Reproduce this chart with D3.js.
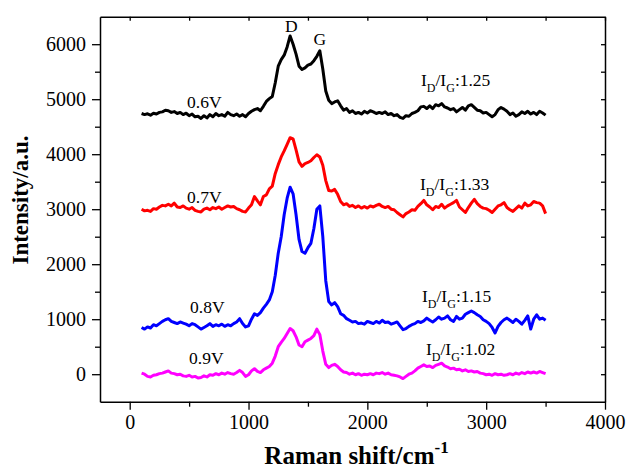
<!DOCTYPE html>
<html>
<head>
<meta charset="utf-8">
<script src="https://cdn.jsdelivr.net/npm/d3@7/dist/d3.min.js"></script>
<style>
html,body{margin:0;padding:0;background:#fff;}
svg text{font-family:"Liberation Serif","Times New Roman",serif;}
</style>
</head>
<body>
<svg id="chart" width="629" height="470"></svg>
<script>
// ---- data ----
const ramanShift = [100,125,150,175,200,225,250,275,300,325,350,375,400,425,450,475,500,525,550,575,600,625,650,675,700,725,750,775,800,825,850,875,900,925,950,975,1000,1025,1050,1075,1100,1125,1150,1175,1200,1225,1250,1275,1300,1325,1350,1375,1400,1425,1450,1475,1500,1525,1550,1575,1600,1625,1650,1675,1700,1725,1750,1775,1800,1825,1850,1875,1900,1925,1950,1975,2000,2025,2050,2075,2100,2125,2150,2175,2200,2225,2250,2275,2300,2325,2350,2375,2400,2425,2450,2475,2500,2525,2550,2575,2600,2625,2650,2675,2700,2725,2750,2775,2800,2825,2850,2875,2900,2925,2950,2975,3000,3025,3050,3075,3100,3125,3150,3175,3200,3225,3250,3275,3300,3325,3350,3375,3400,3425,3450,3475,3500];

const v06 = [4740,4720,4735,4710,4745,4730,4760,4770,4800,4790,4760,4775,4740,4760,4720,4745,4700,4730,4680,4690,4650,4700,4660,4720,4680,4740,4700,4720,4690,4760,4720,4700,4730,4690,4720,4680,4740,4780,4810,4830,4790,4870,4960,5010,5050,5300,5600,5720,5800,5950,6150,6000,5820,5600,5540,5570,5620,5640,5700,5780,5880,5550,5150,4980,4920,4950,4970,4880,4800,4830,4760,4790,4740,4760,4730,4780,4750,4790,4770,4740,4760,4740,4770,4720,4740,4700,4720,4670,4650,4700,4690,4740,4760,4790,4860,4870,4830,4880,4830,4900,4880,4920,4860,4840,4810,4830,4770,4810,4850,4800,4880,4900,4850,4800,4790,4750,4760,4720,4680,4720,4810,4850,4820,4780,4720,4750,4690,4720,4770,4740,4780,4730,4760,4720,4780,4750,4710];

const v07 = [3000,2970,2980,2960,3010,3000,3040,3070,3060,3090,3060,3110,3040,3030,3060,3020,3000,3030,2980,2960,2950,3000,3020,2990,3030,3010,3040,3000,3030,3060,3040,3050,3010,2990,2960,2950,3020,3080,3230,3150,3080,3230,3260,3370,3420,3650,3810,3950,4060,4180,4300,4280,4080,3860,3780,3830,3850,3880,3940,3990,3950,3800,3520,3340,3330,3360,3270,3140,3080,3100,3050,3070,3030,3060,3020,3050,3020,3060,3040,3070,3090,3050,3030,3050,3000,2990,2940,2900,2860,2920,2950,2990,2980,3050,3100,3160,3080,3040,2990,3050,3030,3090,3020,3060,3090,3120,3160,3040,2990,2940,3030,3110,3180,3100,3050,3020,3010,2980,2940,3000,3060,3080,3120,3030,2990,2960,3010,3060,3020,3110,3060,3080,3140,3120,3110,3060,2920];

const v08 = [850,820,860,840,900,880,920,960,990,1010,960,940,920,950,930,910,880,920,900,860,820,850,880,920,870,900,880,910,870,900,880,920,950,1010,920,860,880,1000,1100,1070,1120,1200,1270,1350,1500,1800,2200,2500,2900,3200,3400,3280,2900,2450,2230,2200,2300,2380,2650,3000,3060,2500,1700,1320,1260,1300,1230,1100,1070,1010,980,950,960,920,930,910,960,940,920,960,930,980,940,950,910,930,950,880,810,830,870,900,920,960,940,970,1020,980,950,990,1040,1000,1020,1060,990,960,1050,1000,1020,1090,1120,1150,1120,1080,1050,990,960,920,850,750,870,940,990,1020,980,940,1000,960,910,980,1060,820,1000,1080,1000,1020,980];

const v09 = [20,0,-40,-50,-20,-10,10,20,40,60,20,10,-10,0,-30,-40,-20,-50,-40,-70,-60,-30,-50,-10,-20,10,-10,20,0,30,10,0,30,70,30,-40,-10,60,100,50,30,80,110,140,200,330,500,580,650,740,830,790,680,530,500,590,620,650,700,820,720,420,180,120,160,180,140,80,40,30,0,20,-10,10,-20,0,-10,10,-10,20,10,30,0,20,-10,-20,-30,-50,-80,-40,0,20,60,110,140,170,140,150,120,160,180,200,150,130,100,110,80,90,60,80,50,60,40,50,20,10,-10,0,-20,10,-10,0,-20,-10,10,-10,20,0,30,10,40,20,40,20,50,30,10];

const seriesNames = ["0.6V","0.7V","0.8V","0.9V"];
const seriesColors = ["#000000","#ff0000","#0000ff","#ff00ff"];
const ratioLabels = ["1.25","1.33","1.15","1.02"];

const xMajorTicks = [0,1000,2000,3000,4000];
const xMinorTicks = [500,1500,2500,3500];
const yMajorTicks = [0,1000,2000,3000,4000,5000,6000];
const yMinorTicks = [500,1500,2500,3500,4500,5500];

const xTitle = "Raman shift/cm";
const yTitle = "Intensity/a.u.";

// ---- layout ----
const L = 100, R = 605, T = 16.7, B = 401.7;
const svg = d3.select("#chart");

const x = d3.scaleLinear().domain([-250, 4000]).range([L, R]);
const y = d3.scaleLinear().domain([-500, 6500]).range([B, T]);

const series = [v06, v07, v08, v09];

// curves
const line = d3.line().x((d, i) => x(ramanShift[i])).y(d => y(d));
series.forEach((vals, k) => {
  svg.append("path")
    .datum(vals)
    .attr("fill", "none")
    .attr("stroke", seriesColors[k])
    .attr("stroke-width", 3)
    .attr("stroke-linejoin", "round")
    .attr("d", line);
});

// axes
function styleAxis(g) {
  g.selectAll("path").attr("stroke", "#000").attr("stroke-width", 1.5);
  g.selectAll("line").attr("stroke", "#000").attr("stroke-width", 1.3);
}
const fontSize = 20;

// bottom major
const gB = svg.append("g").attr("transform", `translate(0,${B})`)
  .call(d3.axisBottom(x).tickValues(xMajorTicks).tickSize(8).tickSizeOuter(0).tickPadding(5).tickFormat(d3.format("d")));
styleAxis(gB);
gB.selectAll("text").attr("font-size", fontSize).attr("fill", "#000");
svg.append("g").attr("transform", `translate(0,${B})`)
  .call(d3.axisBottom(x).tickValues(xMinorTicks).tickSize(5).tickSizeOuter(0).tickFormat(""))
  .call(styleAxis).select("path").remove();

// top (inward)
svg.append("g").attr("transform", `translate(0,${T})`)
  .call(d3.axisBottom(x).tickValues(xMajorTicks.concat(xMinorTicks)).tickSize(4).tickSizeOuter(0).tickFormat(""))
  .call(styleAxis);

// left major
const gL = svg.append("g").attr("transform", `translate(${L},0)`)
  .call(d3.axisLeft(y).tickValues(yMajorTicks).tickSize(8).tickSizeOuter(0).tickPadding(6).tickFormat(d3.format("d")));
styleAxis(gL);
gL.selectAll("text").attr("font-size", fontSize).attr("fill", "#000");
svg.append("g").attr("transform", `translate(${L},0)`)
  .call(d3.axisLeft(y).tickValues(yMinorTicks).tickSize(5).tickSizeOuter(0).tickFormat(""))
  .call(styleAxis).select("path").remove();

// right (inward)
svg.append("g").attr("transform", `translate(${R},0)`)
  .call(d3.axisLeft(y).tickValues(yMajorTicks.concat(yMinorTicks)).tickSize(4).tickSizeOuter(0).tickFormat(""))
  .call(styleAxis);

// axis titles
const xt = svg.append("text")
  .attr("x", (L + R) / 2 + 4).attr("y", 464)
  .attr("text-anchor", "middle")
  .attr("font-weight", "bold").attr("font-size", 25).attr("fill", "#000");
xt.append("tspan").text(xTitle);
xt.append("tspan").attr("dy", -11).attr("font-size", 17).text("-1");

svg.append("text")
  .attr("transform", `translate(28,200) rotate(-90)`)
  .attr("text-anchor", "middle")
  .attr("font-weight", "bold").attr("font-size", 23).attr("fill", "#000")
  .text(yTitle);

// series labels
const nameOffsets = [[187, 108], [187, 203], [190, 313], [189, 364]];
seriesNames.forEach((n, k) => {
  svg.append("text")
    .attr("x", nameOffsets[k][0]).attr("y", nameOffsets[k][1])
    .attr("font-size", 17.5).attr("fill", "#000")
    .text(n);
});

// peak labels
svg.append("text").attr("x", x(1360)).attr("y", 31.5).attr("text-anchor", "middle")
  .attr("font-size", 17.5).attr("fill", "#000").text("D");
svg.append("text").attr("x", x(1600)).attr("y", 45).attr("text-anchor", "middle")
  .attr("font-size", 17.5).attr("fill", "#000").text("G");

// ratio labels
const ratioPos = [[421, 86], [420, 190], [422, 301.5], [426, 355]];
ratioLabels.forEach((r, k) => {
  const t = svg.append("text")
    .attr("x", ratioPos[k][0]).attr("y", ratioPos[k][1])
    .attr("font-size", 17.5).attr("fill", "#000");
  t.append("tspan").text("I");
  t.append("tspan").attr("dy", 6).attr("font-size", 12).text("D");
  t.append("tspan").attr("dy", -6).text("/I");
  t.append("tspan").attr("dy", 6).attr("font-size", 12).text("G");
  t.append("tspan").attr("dy", -6).text(":" + r);
});
</script>
</body>
</html>
